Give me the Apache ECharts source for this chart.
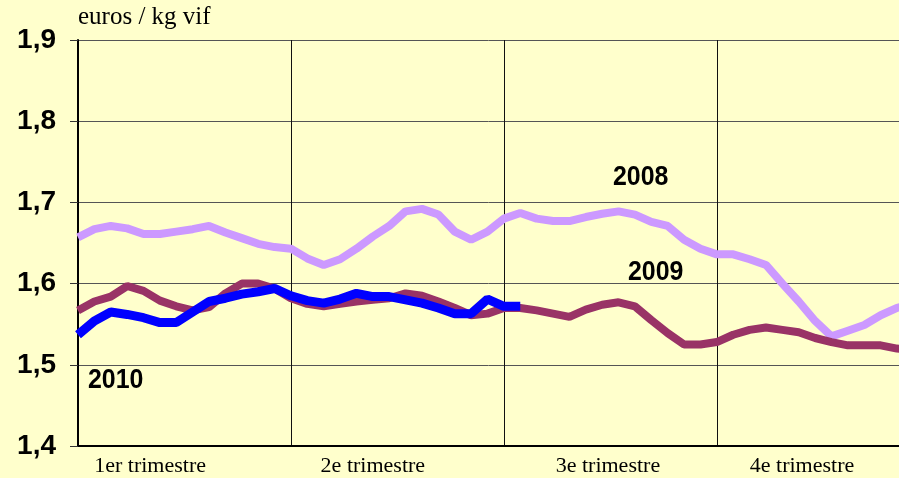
<!DOCTYPE html>
<html>
<head>
<meta charset="utf-8">
<script src="https://cdn.jsdelivr.net/npm/echarts@6/dist/echarts.min.js"></script>
<style>
  html, body { margin: 0; padding: 0; background: #ffffcc; }
  #chart { width: 899px; height: 478px; }
</style>
</head>
<body>
<div id="chart"></div>
<script>
// semaines 0..51, prix en euros / kg vif
var weeks = [];
for (var w = 0; w < 52; w++) weeks.push(w);

var prix2008 = [1.657, 1.667, 1.671, 1.668, 1.661, 1.661, 1.664, 1.667, 1.671, 1.663,
  1.656, 1.649, 1.645, 1.643, 1.631, 1.623, 1.630, 1.643, 1.658, 1.671,
  1.689, 1.692, 1.685, 1.664, 1.654, 1.664, 1.680, 1.687, 1.680, 1.677,
  1.677, 1.682, 1.686, 1.689, 1.685, 1.676, 1.671, 1.654, 1.643, 1.636,
  1.636, 1.630, 1.623, 1.600, 1.578, 1.554, 1.535, 1.542, 1.549, 1.561,
  1.570, 1.575];

var prix2009 = [1.567, 1.578, 1.584, 1.597, 1.591, 1.579, 1.572, 1.567, 1.571, 1.588,
  1.600, 1.600, 1.594, 1.582, 1.575, 1.572, 1.575, 1.578, 1.580, 1.582,
  1.588, 1.585, 1.578, 1.570, 1.561, 1.563, 1.570, 1.570, 1.567, 1.563,
  1.559, 1.568, 1.574, 1.577, 1.572, 1.555, 1.539, 1.525, 1.525, 1.528,
  1.537, 1.543, 1.546, 1.543, 1.540, 1.533, 1.528, 1.524, 1.524, 1.524,
  1.520, 1.518];

var prix2010 = [1.537, 1.554, 1.565, 1.562, 1.558, 1.552, 1.552, 1.565, 1.578, 1.582,
  1.587, 1.590, 1.594, 1.585, 1.579, 1.576, 1.581, 1.588, 1.584, 1.584,
  1.580, 1.576, 1.570, 1.563, 1.563, 1.581, 1.572, 1.572];

var quarterLabels = ['1er trimestre', '2e trimestre', '3e trimestre', '4e trimestre'];
var quarterLabelPos = [4.4, 18.0, 32.35, 44.2];

function pairs(vals) {
  return vals.map(function (v, i) { return [weeks[i], v]; });
}

var chart = echarts.init(document.getElementById('chart'));
var xMax = 50.12;
var yearFont = 'bold 28px "Liberation Sans", Arial, sans-serif';

chart.setOption({
  backgroundColor: '#ffffcc',
  animation: false,
  grid: { left: 78, top: 40, right: 0, bottom: 32 },
  xAxis: [
    {
      type: 'value', min: 0, max: xMax, interval: 13,
      axisLine: { show: true, lineStyle: { color: '#000', width: 2 } },
      axisTick: { show: false },
      axisLabel: { show: false },
      splitLine: { show: true, lineStyle: { color: '#111', width: 1 } }
    },
    {
      type: 'value', min: 0, max: xMax, position: 'bottom',
      axisLine: { show: false },
      axisTick: { show: false },
      splitLine: { show: false },
      axisLabel: {
        customValues: quarterLabelPos,
        margin: 9,
        fontFamily: 'Liberation Serif, Times New Roman, serif',
        fontSize: 22,
        color: '#000',
        formatter: function (v) {
          var k = quarterLabelPos.indexOf(v);
          return k >= 0 ? quarterLabels[k] : '';
        }
      }
    }
  ],
  yAxis: {
    type: 'value', min: 1.4, max: 1.9, interval: 0.1,
    name: 'euros / kg vif',
    nameLocation: 'end',
    nameGap: 10,
    nameTextStyle: {
      align: 'left', verticalAlign: 'bottom',
      fontFamily: 'Liberation Serif, Times New Roman, serif',
      fontSize: 25, color: '#000'
    },
    axisLine: { show: true, lineStyle: { color: '#000', width: 2 } },
    axisTick: { show: true, inside: false, length: 8, lineStyle: { color: '#333' } },
    axisLabel: {
      margin: 22,
      fontFamily: 'Liberation Sans, Arial, sans-serif',
      fontWeight: 'bold', fontSize: 28, color: '#000',
      formatter: function (v) { return v.toFixed(1).replace('.', ','); }
    },
    splitLine: { show: true, lineStyle: { color: '#555', width: 1 } }
  },
  series: [
    {
      name: '2008', type: 'line', data: pairs(prix2008), symbol: 'none',
      lineStyle: { color: '#cc99ff', width: 8 }
    },
    {
      name: '2009', type: 'line', data: pairs(prix2009), symbol: 'none',
      lineStyle: { color: '#993366', width: 8 }
    },
    {
      name: '2010', type: 'line', data: pairs(prix2010), symbol: 'none',
      lineStyle: { color: '#0000ff', width: 9 }
    }
  ],
  graphic: [
    { type: 'text', x: 613, y: 163, scaleX: 0.89, style: { text: '2008', font: yearFont, fill: '#000' } },
    { type: 'text', x: 628, y: 258, scaleX: 0.89, style: { text: '2009', font: yearFont, fill: '#000' } },
    { type: 'text', x: 88, y: 366, scaleX: 0.89, style: { text: '2010', font: yearFont, fill: '#000' } }
  ]
});
</script>
</body>
</html>
